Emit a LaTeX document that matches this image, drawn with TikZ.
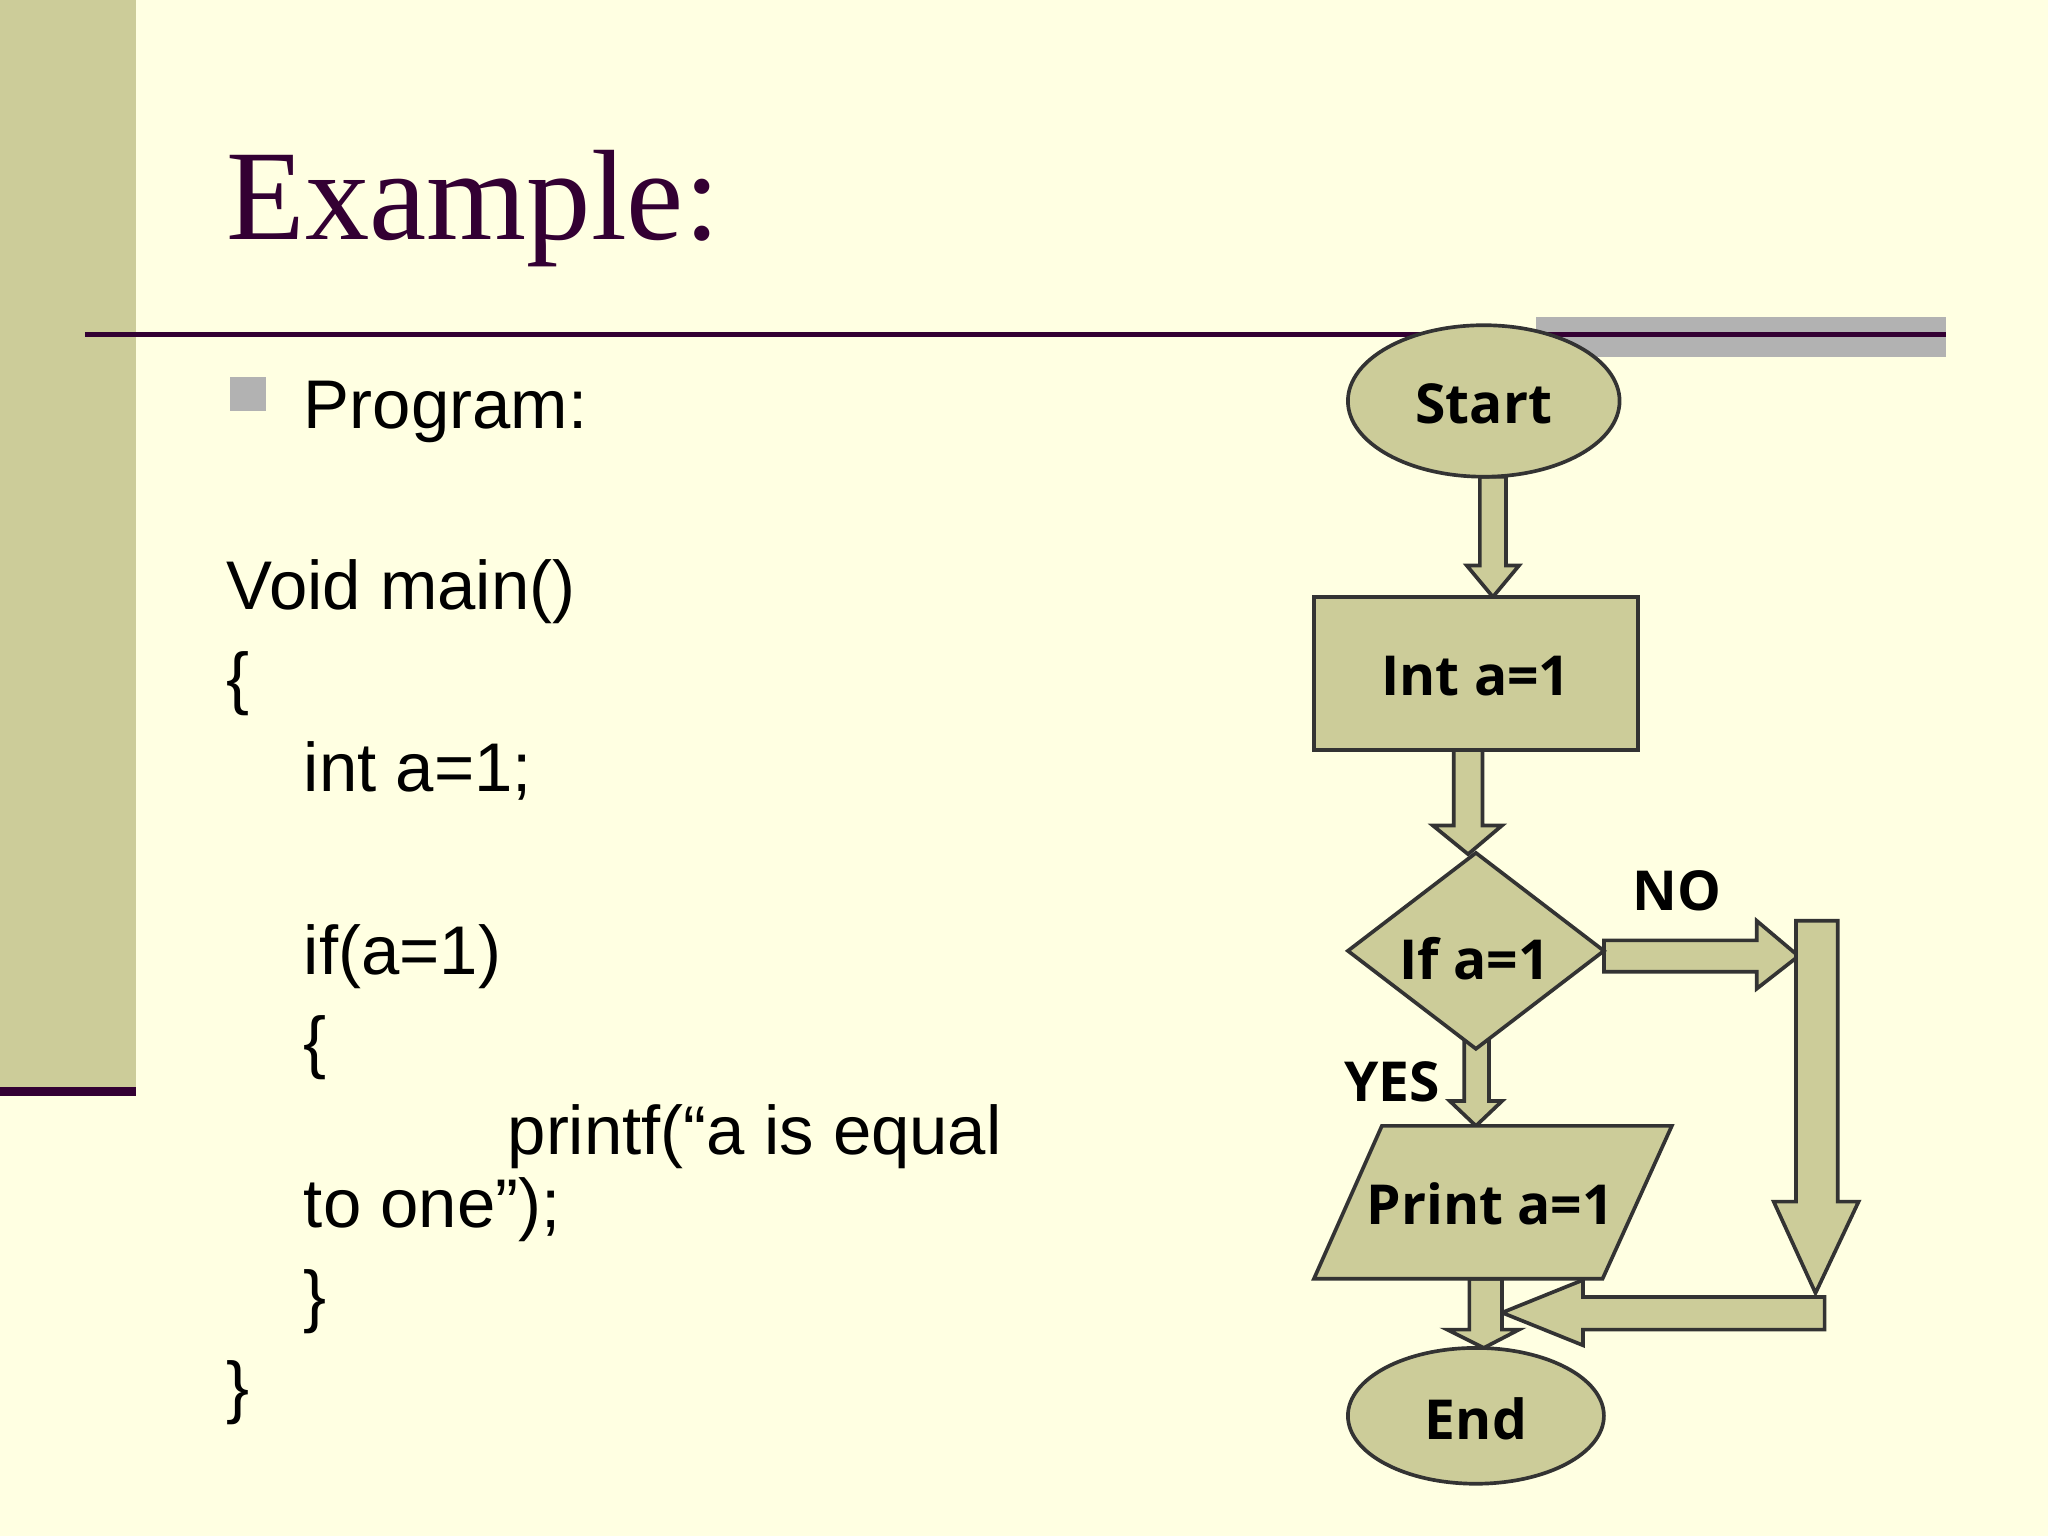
\documentclass[tikz,border=0pt]{standalone}
\usepackage{fontspec}
\setmainfont{Liberation Sans}
\newfontfamily\titlefont{Liberation Serif}
\newfontfamily\flowfont{Open Sans}
\begin{document}
\begin{tikzpicture}[x=0.01cm,y=-0.01cm]
\definecolor{bg}{RGB}{255,255,226}
\definecolor{olive}{RGB}{204,204,153}
\definecolor{plum}{RGB}{51,0,51}
\definecolor{greybar}{RGB}{178,178,178}
\tikzset{
  code/.style={anchor=base west,inner sep=0,font=\fontsize{15}{18}\selectfont},
  shp/.style={fill=olive,draw=black!80,line width=0.8pt},
  lbl/.style={font=\flowfont\bfseries\fontsize{12}{14}\selectfont,text=black}
}
\fill[bg] (0,0) rectangle (1568,1176);
\useasboundingbox (0,0) rectangle (1568,1176);
\fill[olive] (0,0) rectangle (104,832);
\fill[plum] (0,832) rectangle (104,839);
\node[anchor=base west,inner sep=0,text=plum,font=\titlefont\fontsize{28}{32}\selectfont] (title) at (173,183) {Example:};
\fill[greybar] (1176,243) rectangle (1490,273);
\draw[plum,line width=1.2pt] (65,256) -- (1490,256);
\fill[greybar] (176,289) rectangle (204,315);
\node[code] (prog) at (232,328) {Program:};
\node[code] (l1) at (173,467) {Void main()};
\node[code] (l2) at (173,537) {\{};
\node[code] (l3) at (232,606) {int a=1;};
\node[code] (l4) at (232,746) {if(a=1)};
\node[code] (l5) at (232,816) {\{};
\node[code] (l6) at (388,884) {printf(“a is equal};
\node[code] (l7) at (232,940) {to one”);};
\node[code] (l8) at (232,1010) {\}};
\node[code] (l9) at (173,1080) {\}};
% arrows
\draw[shp] (1133,365) -- (1153,365) -- (1153,433) -- (1163,433) -- (1143,457) -- (1123,433) -- (1133,433) -- cycle;
\draw[shp] (1113,574) -- (1135,574) -- (1135,632) -- (1150,632) -- (1124,654) -- (1097,632) -- (1113,632) -- cycle;
\draw[shp] (1228,720) -- (1345,720) -- (1345,705) -- (1377,732) -- (1345,757) -- (1345,744) -- (1228,744) -- cycle;
\draw[shp] (1375,705) -- (1407,705) -- (1407,920) -- (1423,920) -- (1390,990) -- (1358,920) -- (1375,920) -- cycle;
\draw[shp] (1397,993) -- (1397,1018) -- (1212,1018) -- (1212,1030) -- (1150,1005) -- (1212,980) -- (1212,993) -- cycle;
\draw[shp] (1121,797) -- (1140,797) -- (1140,843) -- (1150,843) -- (1130,862) -- (1110,843) -- (1121,843) -- cycle;
\draw[shp] (1125,979) -- (1150,979) -- (1150,1018) -- (1163,1018) -- (1136,1032) -- (1108,1018) -- (1125,1018) -- cycle;
% shapes
\draw[shp] (1136,307) ellipse [x radius=104,y radius=58];
\node[lbl] (start) at (1136,309) {Start};
\draw[shp] (1006,457) rectangle (1254,574);
\node[lbl] (int) at (1130,518) {Int a=1};
\draw[shp] (1130,653) -- (1228,728) -- (1130,803) -- (1032,728) -- cycle;
\node[lbl] (if) at (1129,734) {If a=1};
\draw[shp] (1058,862) -- (1280,862) -- (1227,979) -- (1006,979) -- cycle;
\node[lbl] (print) at (1141,922) {Print a=1};
\draw[shp] (1130,1084) ellipse [x radius=98,y radius=52];
\node[lbl] (end) at (1130,1086) {End};
\node[lbl] (no) at (1284,682) {NO};
\node[lbl] (yes) at (1066,828) {YES};
\end{tikzpicture}
\end{document}
